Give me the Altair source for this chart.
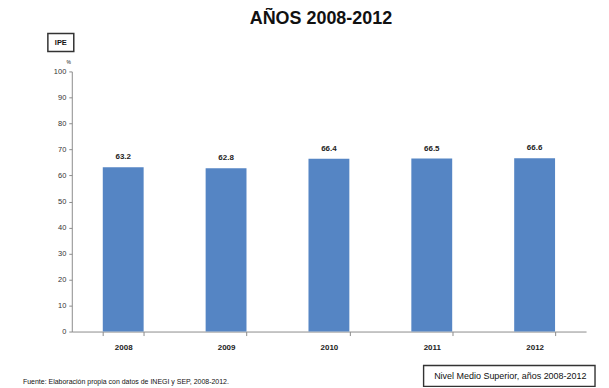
import altair as alt
import pandas as pd

years = ["2008", "2009", "2010", "2011", "2012"]
ipe = [63.2, 62.8, 66.4, 66.5, 66.6]
y_ticks = [0, 10, 20, 30, 40, 50, 60, 70, 80, 90, 100]

title_text = "AÑOS 2008-2012"
ylabel_text = "IPE"
unit_text = "%"
source_text = "Fuente: Elaboración propia con datos de INEGI y SEP, 2008-2012."
legend_text = "Nivel Medio Superior, años 2008-2012"

df = pd.DataFrame({"year": years, "ipe": ipe})
df["label"] = [f"{v:.1f}" for v in ipe]

FONT = "Liberation Sans, Arial"
BLUE = "#5585C4"

x_enc = alt.X("year:N", sort=years, title=None,
              scale=alt.Scale(paddingInner=0.6, paddingOuter=0.3),
              axis=alt.Axis(labelAngle=0, tickBand="extent", domainColor="#8c8c8c",
                            tickColor="#8c8c8c", tickSize=4, labelFont=FONT,
                            labelFontSize=8, labelFontWeight="bold", labelColor="#222",
                            labelPadding=8))
y_enc = alt.Y("ipe:Q", title=None,
              scale=alt.Scale(domain=[0, 100], nice=False),
              axis=alt.Axis(values=y_ticks, grid=False, domainColor="#8c8c8c",
                            tickColor="#8c8c8c", tickSize=3, labelFont=FONT,
                            labelFontSize=7.5, labelColor="#333", labelPadding=3,
                            labelOverlap=False))

bars = alt.Chart(df).mark_bar(color=BLUE, size=41).encode(x=x_enc, y=y_enc)
labels = alt.Chart(df).mark_text(dy=-10, font=FONT, fontSize=8, fontWeight="bold",
                                 color="#222").encode(
    x=x_enc, y=y_enc, text="label:N")

one = pd.DataFrame({"t": [title_text]})


def txt(text, x, y, size, weight="normal", align="center", font=FONT):
    return alt.Chart(pd.DataFrame({"t": [text]})).mark_text(
        font=font, fontSize=size, fontWeight=weight, align=align,
        baseline="middle", color="#111").encode(
        x=alt.value(x), y=alt.value(y), text="t:N")


def box(x1, x2, y1, y2, sw):
    return alt.Chart(one).mark_rect(fill="white", stroke="#333", strokeWidth=sw).encode(
        x=alt.value(x1), x2=alt.value(x2), y=alt.value(y1), y2=alt.value(y2))


title = txt(title_text, 250, -53, 18, "bold")
ipe_box = box(-24, 2, -38, -20, 1.5)
ipe_txt = txt(ylabel_text, -11, -29, 7.5, "bold")
pct = txt(unit_text, -3, -9, 5)
source = txt(source_text, -49, 312, 7, align="left")
leg_box = box(353, 525, 295, 316, 1.4)
leg_txt = txt(legend_text, 440, 305.5, 9)

chart = alt.layer(bars, labels, title, ipe_box, ipe_txt, pct, source, leg_box, leg_txt).properties(
    width=516, height=261,
    autosize=alt.AutoSizeParams(type="none"),
    padding={"left": 64, "top": 63, "right": 15, "bottom": 55},
    background="white",
).configure_view(stroke=None)

chart.save("out.html", embed_options={"renderer": "svg", "actions": False})
